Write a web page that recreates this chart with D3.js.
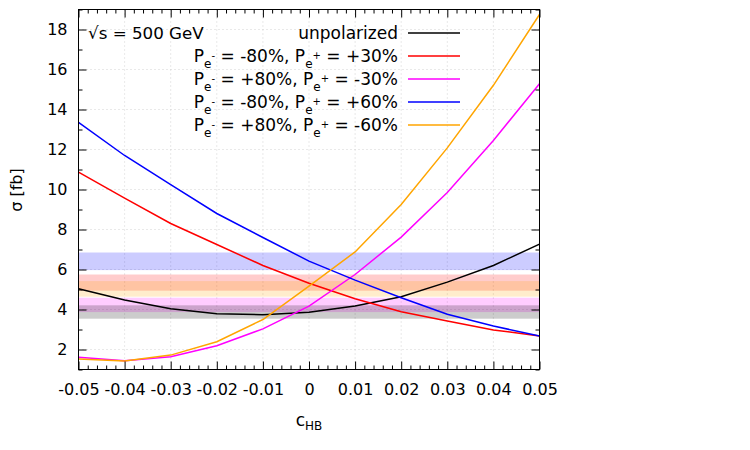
<!DOCTYPE html>
<html>
<head>
<meta charset="utf-8">
<script src="https://cdn.jsdelivr.net/npm/d3@7"></script>
<style>
  body { margin: 0; background: #fff; }
  text { font-family: "DejaVu Sans", sans-serif; }
</style>
</head>
<body>
<script>
// x values of the scan in c_HB
let cHB = [-0.05, -0.04, -0.03, -0.02, -0.01, 0, 0.01, 0.02, 0.03, 0.04, 0.05]

// cross sections in fb
let unpolarized = [5.04, 4.47, 4.04, 3.79, 3.74, 3.86, 4.17, 4.64, 5.37, 6.2, 7.27]
let polM80P30 = [10.87, 9.57, 8.3, 7.25, 6.2, 5.31, 4.54, 3.89, 3.42, 2.98, 2.68]
let polP80M30 = [1.61, 1.44, 1.64, 2.19, 3.03, 4.17, 5.75, 7.62, 9.85, 12.45, 15.29]
let polM80P60 = [13.36, 11.7, 10.24, 8.8, 7.6, 6.42, 5.47, 4.59, 3.76, 3.17, 2.68]
let polP80M60 = [1.52, 1.42, 1.72, 2.39, 3.5, 5.17, 6.88, 9.25, 12.08, 15.21, 18.75]

// horizontal bands [low, high]
let bandNames = ['blue', 'red', 'orange', 'magenta', 'gray']
let bandLow = [5.97, 4.94, 4.64, 3.87, 3.54]
let bandHigh = [6.85, 5.75, 5.42, 4.59, 4.21]

// tick labels
let xTickVals = [-0.05, -0.04, -0.03, -0.02, -0.01, 0, 0.01, 0.02, 0.03, 0.04, 0.05]
let yTickVals = [2, 4, 6, 8, 10, 12, 14, 16, 18]

let W = 750
let H = 450
let plot = {left: 78.5, right: 539.5, top: 9.5, bottom: 369.5}

let series = [
  {key: 'unpol', values: unpolarized, color: '#000000'},
  {key: 'm80p30', values: polM80P30, color: '#ff0000', em: '-80%', ep: '+30%'},
  {key: 'p80m30', values: polP80M30, color: '#ff00ff', em: '+80%', ep: '-30%'},
  {key: 'm80p60', values: polM80P60, color: '#0000ff', em: '-80%', ep: '+60%'},
  {key: 'p80m60', values: polP80M60, color: '#ffa500', em: '+80%', ep: '-60%'}
]
let bandColor = {blue: '#0000ff', red: '#ff0000', orange: '#ffa500', magenta: '#ff00ff', gray: '#000000'}

let x = d3.scaleLinear().domain([-0.05, 0.05]).range([plot.left, plot.right])
let y = d3.scaleLinear().domain([1, 19]).range([plot.bottom, plot.top])

let svg = d3.select('body').append('svg')
  .attr('width', W)
  .attr('height', H)

// grid
let grid = svg.append('g').attr('stroke', '#c8c8c8').attr('stroke-width', 0.8).attr('stroke-dasharray', '1,3')
grid.selectAll('.gx').data(xTickVals.slice(1, -1)).enter().append('line')
  .attr('x1', d => x(d)).attr('x2', d => x(d))
  .attr('y1', plot.top).attr('y2', plot.bottom)
grid.selectAll('.gy').data(yTickVals).enter().append('line')
  .attr('x1', plot.left).attr('x2', plot.right)
  .attr('y1', d => y(d)).attr('y2', d => y(d))

// bands
svg.append('g').selectAll('rect')
  .data(bandNames)
  .enter()
  .append('rect')
  .attr('x', plot.left)
  .attr('width', plot.right - plot.left)
  .attr('y', (d, i) => y(bandHigh[i]))
  .attr('height', (d, i) => y(bandLow[i]) - y(bandHigh[i]))
  .attr('fill', d => bandColor[d])
  .attr('fill-opacity', 0.2)

// curves
let line = d3.line()
  .x((d, i) => x(cHB[i]))
  .y(d => y(d))
svg.append('g').selectAll('path')
  .data(series)
  .enter()
  .append('path')
  .attr('d', d => line(d.values))
  .attr('fill', 'none')
  .attr('stroke', d => d.color)
  .attr('stroke-width', 1.5)

// axes
let xMinor = d3.range(-50, 51, 2).filter(v => v % 10 !== 0).map(v => v / 1000)
let yMinor = d3.range(1, 20, 2)
let fmtX = d => d === 0 ? '0' : d.toFixed(2)

function styleAxis(g) {
  g.select('.domain').remove()
  g.selectAll('.tick line').attr('stroke', '#000').attr('stroke-width', 1)
  g.selectAll('.tick text').attr('font-size', 16).attr('fill', '#000')
}
svg.append('g')
  .attr('transform', 'translate(0,' + plot.bottom + ')')
  .call(d3.axisBottom(x).tickValues(xTickVals).tickSize(-8).tickPadding(14).tickFormat(fmtX))
  .call(styleAxis)
svg.append('g')
  .attr('transform', 'translate(0,' + plot.bottom + ')')
  .call(d3.axisBottom(x).tickValues(xMinor).tickSize(-4).tickFormat(''))
  .call(styleAxis)
svg.append('g')
  .attr('transform', 'translate(0,' + plot.top + ')')
  .call(d3.axisTop(x).tickValues(xTickVals).tickSize(-8).tickFormat(''))
  .call(styleAxis)
svg.append('g')
  .attr('transform', 'translate(0,' + plot.top + ')')
  .call(d3.axisTop(x).tickValues(xMinor).tickSize(-4).tickFormat(''))
  .call(styleAxis)
svg.append('g')
  .attr('transform', 'translate(' + plot.left + ',0)')
  .call(d3.axisLeft(y).tickValues(yTickVals).tickSize(-8).tickPadding(11))
  .call(styleAxis)
svg.append('g')
  .attr('transform', 'translate(' + plot.left + ',0)')
  .call(d3.axisLeft(y).tickValues(yMinor).tickSize(-4).tickFormat(''))
  .call(styleAxis)
svg.append('g')
  .attr('transform', 'translate(' + plot.right + ',0)')
  .call(d3.axisRight(y).tickValues(yTickVals).tickSize(-8).tickFormat(''))
  .call(styleAxis)
svg.append('g')
  .attr('transform', 'translate(' + plot.right + ',0)')
  .call(d3.axisRight(y).tickValues(yMinor).tickSize(-4).tickFormat(''))
  .call(styleAxis)

// frame
svg.append('rect')
  .attr('x', plot.left).attr('y', plot.top)
  .attr('width', plot.right - plot.left).attr('height', plot.bottom - plot.top)
  .attr('fill', 'none').attr('stroke', '#000').attr('stroke-width', 1)

// axis titles
let xl = svg.append('text').attr('x', 309).attr('y', 426).attr('text-anchor', 'middle').attr('font-size', 17)
xl.append('tspan').text('c')
xl.append('tspan').attr('dy', 3.5).attr('font-size', 12).text('HB')
svg.append('text')
  .attr('transform', 'translate(22,190) rotate(-90)')
  .attr('text-anchor', 'middle')
  .attr('font-size', 16)
  .text('σ [fb]')

// sqrt(s) label
svg.append('text').attr('x', 88).attr('y', 39).attr('font-size', 16.7).text('√s = 500 GeV')

// legend
let legY = d3.scalePoint().domain(series.map(d => d.key)).range([33, 125])
let leg = svg.append('g').selectAll('g')
  .data(series)
  .enter()
  .append('g')
  .attr('transform', d => 'translate(0,' + legY(d.key) + ')')
leg.append('line')
  .attr('x1', 408).attr('x2', 460)
  .attr('stroke', d => d.color).attr('stroke-width', 1.5)
leg.append('text')
  .attr('x', 398)
  .attr('dy', '0.35em')
  .attr('text-anchor', 'end')
  .attr('font-size', 17)
  .each(function (d) {
    let t = d3.select(this)
    if (!d.em) { t.text('unpolarized'); return }
    t.append('tspan').text('P')
    t.append('tspan').attr('dy', 6).attr('font-size', 12).text('e')
    t.append('tspan').attr('dy', -9).attr('font-size', 10).text('-')
    t.append('tspan').attr('dy', 3).text(' = ' + d.em + ', P')
    t.append('tspan').attr('dy', 6).attr('font-size', 12).text('e')
    t.append('tspan').attr('dy', -9).attr('font-size', 10).text('+')
    t.append('tspan').attr('dy', 3).text(' = ' + d.ep)
  })
</script>
</body>
</html>
